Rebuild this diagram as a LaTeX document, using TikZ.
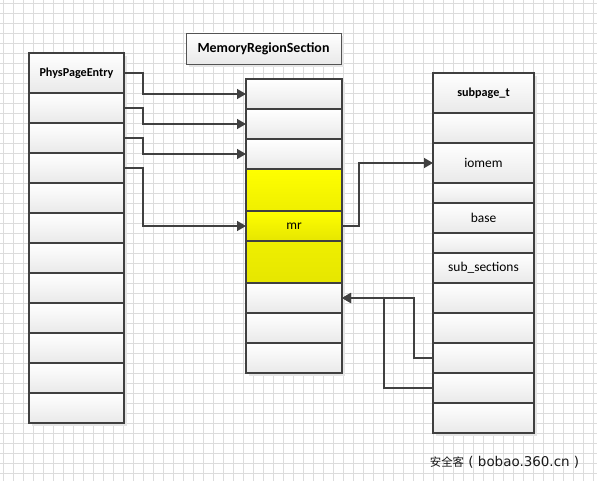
\documentclass[tikz,border=0pt]{standalone}
\usepackage{fontspec}
\setmainfont{Carlito}
\newfontfamily\cjk{Noto Sans CJK SC}
\newfontfamily\marklatin{DejaVu Sans}
\usetikzlibrary{arrows.meta,shadows}

\definecolor{edge}{HTML}{404040}
\definecolor{gridc}{HTML}{DCDCDC}
\definecolor{rowlow}{HTML}{E9E9E9}
\definecolor{yelhi}{HTML}{FFFF00}
\definecolor{yello}{HTML}{E6E600}
\definecolor{yelmid}{HTML}{EFEF00}

\begin{document}
\begin{tikzpicture}[x=1bp, y=-1bp,
    cell/.style={draw=edge, line width=2bp, inner sep=0pt, outer sep=0pt,
        top color=white, bottom color=rowlow, font=\fontsize{13.5}{15}\selectfont,
        drop shadow={shadow xshift=3bp, shadow yshift=-3bp, fill=black!10, opacity=1}},
    headcell/.style={cell, font=\fontsize{12.2}{14}\selectfont\bfseries},
    yelcell/.style={cell, top color=yelhi, bottom color=yello},
    link/.style={draw=edge, line width=1.4bp, -{Triangle[length=9bp,width=10bp]}}]
    \useasboundingbox (0,0) rectangle (597,481);
    \fill[white] (0,0) rectangle (597,481);

    % grid paper
    \foreach \gx in {3,13,...,593} \draw[gridc, line width=0.8bp] (\gx,0) -- (\gx,481);
    \foreach \gy in {3,13,...,473} \draw[gridc, line width=0.8bp] (0,\gy) -- (597,\gy);

    % PhysPageEntry
    \node[headcell, minimum width=95bp, minimum height=40bp] (pe0) at (76.5,73) {PhysPageEntry};
    \foreach \i in {1,...,11}
        \node[cell, minimum width=95bp, minimum height=30bp] (pe\i) at (76.5,78+30*\i) {};

    % MemoryRegionSection
    \node[cell, line width=0.9bp, draw=edge!90, minimum width=155bp, minimum height=31bp,
        font=\fontsize{14}{16}\selectfont\bfseries] (mrstitle) at (263.5,48.5) {MemoryRegionSection};
    \node[cell, minimum width=96bp, minimum height=30bp] (mrs1) at (294,94) {};
    \node[cell, minimum width=96bp, minimum height=30bp] (mrs2) at (294,124) {};
    \node[cell, minimum width=96bp, minimum height=30bp] (mrs3) at (294,154) {};
    \node[yelcell, bottom color=yelmid, minimum width=96bp, minimum height=42bp] (mrs4) at (294,190) {};
    \node[yelcell, minimum width=96bp, minimum height=30bp] (mrs5) at (294,226) {mr};
    \node[yelcell, top color=yelmid, bottom color=yello, minimum width=96bp, minimum height=42bp] (mrs6) at (294,262) {};
    \node[cell, minimum width=96bp, minimum height=30bp] (mrs7) at (294,298) {};
    \node[cell, minimum width=96bp, minimum height=30bp] (mrs8) at (294,328) {};
    \node[cell, minimum width=96bp, minimum height=30bp] (mrs9) at (294,358) {};

    % subpage_t
    \node[headcell, minimum width=101bp, minimum height=40bp] (sp0) at (483.5,93) {subpage\_t};
    \node[cell, minimum width=101bp, minimum height=30bp] (sp1) at (483.5,128) {};
    \node[cell, minimum width=101bp, minimum height=40bp] (sp2) at (483.5,163) {iomem};
    \node[cell, minimum width=101bp, minimum height=20bp] (sp3) at (483.5,193) {};
    \node[cell, minimum width=101bp, minimum height=30bp] (sp4) at (483.5,218) {base};
    \node[cell, minimum width=101bp, minimum height=20bp] (sp5) at (483.5,243) {};
    \node[cell, minimum width=101bp, minimum height=30bp] (sp6) at (483.5,268) {sub\_sections};
    \foreach \i in {7,...,11}
        \node[cell, minimum width=101bp, minimum height=30bp] (sp\i) at (483.5,88+30*\i) {};

    % pointers
    \draw[link] (pe0.east) -- ++(19,0) |- (mrs1.west);
    \draw[link] (pe1.east) -- ++(19,0) |- (mrs2.west);
    \draw[link] (pe2.east) -- ++(19,0) |- (mrs3.west);
    \draw[link] (pe3.east) -- ++(19,0) |- (mrs5.west);
    \draw[link] (mrs5.east) -- ++(17,0) |- (sp2.west);
    \draw[link] (sp9.west) -- ++(-19,0) |- (mrs7.east);
    \draw[link] (sp10.west) -- ++(-49,0) |- (mrs7.east);

    \node[text=black!90, inner sep=0pt] (mark) at (504.5,462)
        {\cjk\fontsize{11.5}{13}\selectfont 安全客\marklatin\fontsize{13.5}{15}\selectfont{} ( bobao.360.cn )};
\end{tikzpicture}
\end{document}
